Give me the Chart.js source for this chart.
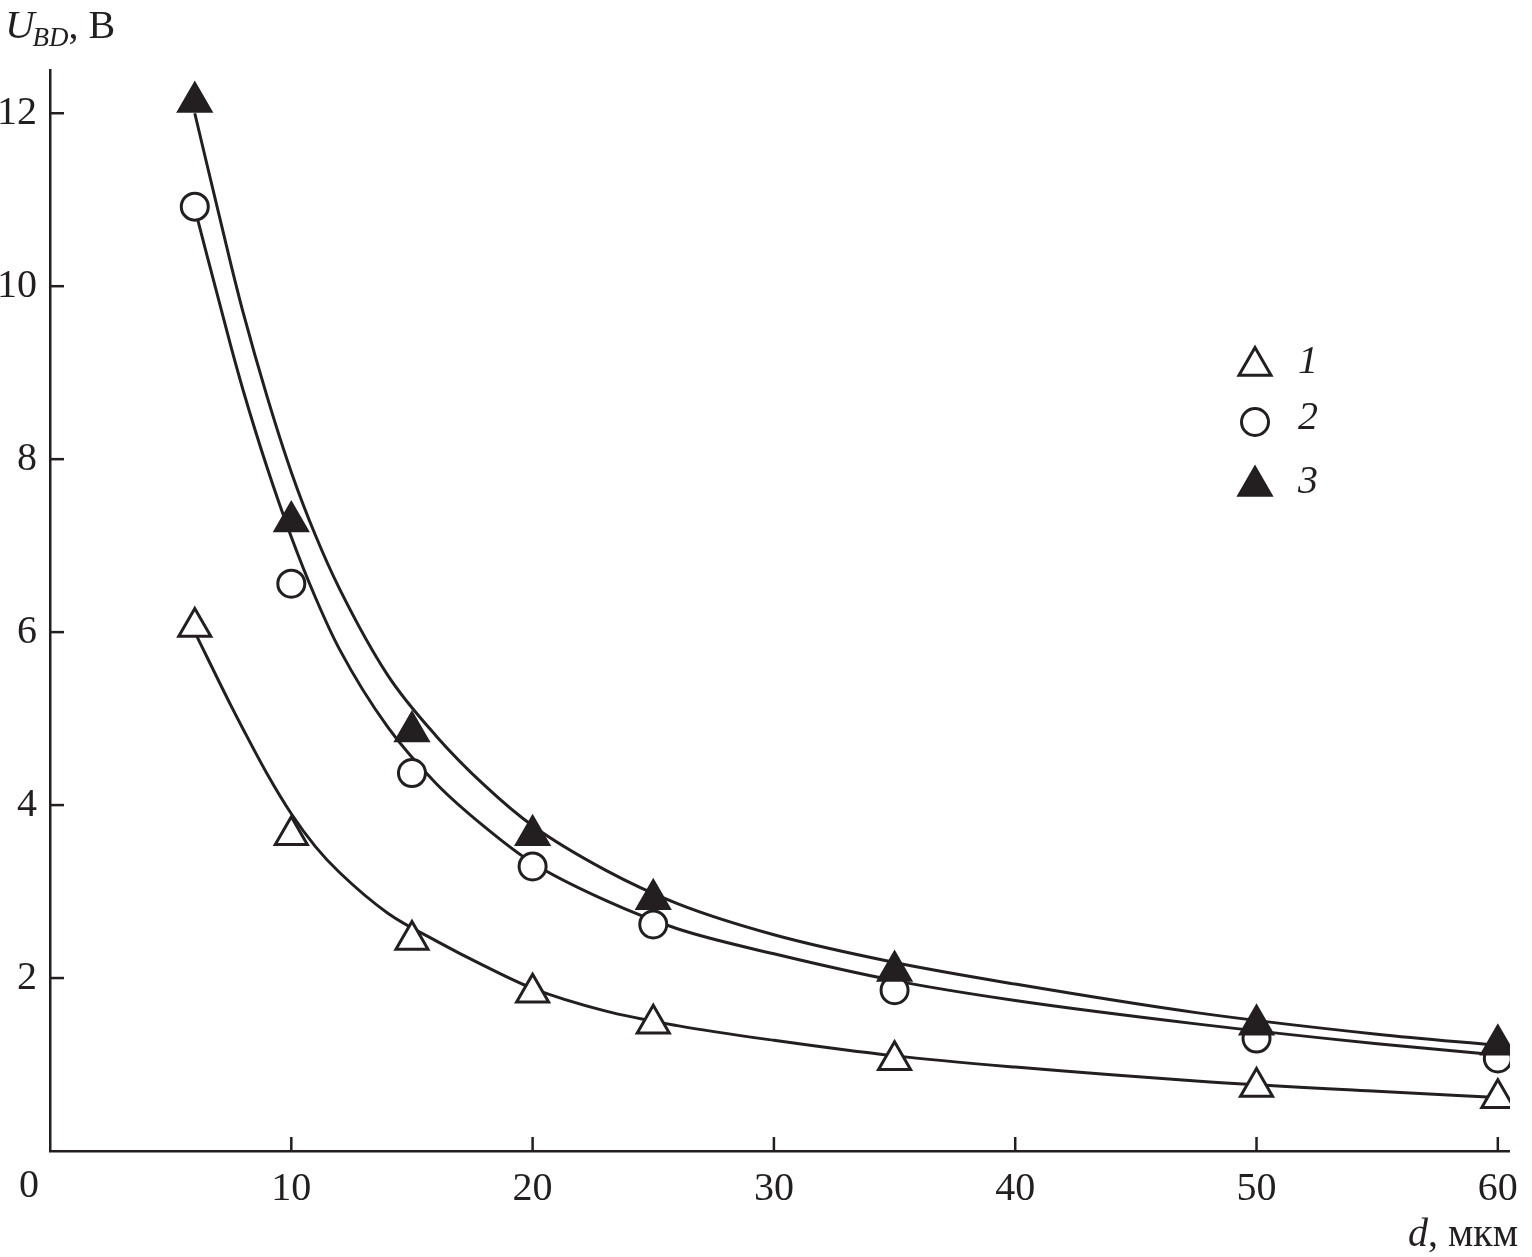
<html>
<head>
<script src="https://cdn.jsdelivr.net/npm/chart.js@4.4.0/dist/chart.umd.min.js"></script>
<style>
  body { margin: 0; background: #fff; }
</style>
</head>
<body>
<canvas id="myChart" width="1532" height="1257"></canvas>
<script>
// measured points: d (um) vs U_BD (V)
const dValues = [6, 10, 15, 20, 25, 35, 50, 60];
const series1 = [6.06, 3.65, 2.44, 1.83, 1.47, 1.05, 0.74, 0.61];
const series2 = [10.92, 6.56, 4.37, 3.29, 2.62, 1.86, 1.30, 1.07];
const series3 = [12.13, 7.28, 4.85, 3.65, 2.91, 2.08, 1.46, 1.23];

// fitted curves
const curveX = [6, 7.5, 8, 9, 10, 11, 12, 14, 16, 18, 20, 23, 26, 30, 35, 40, 47.5, 55, 60];
const curve1 = [6.0, 5.15, 4.88, 4.36, 3.9, 3.52, 3.22, 2.75, 2.43, 2.14, 1.88, 1.62, 1.45, 1.28, 1.1, 0.97, 0.81, 0.69, 0.62];
const curve2 = [10.9, 9.3, 8.8, 7.9, 7.1, 6.4, 5.8, 4.9, 4.25, 3.75, 3.33, 2.9, 2.57, 2.28, 1.97, 1.74, 1.47, 1.24, 1.11];
const curve3 = [12.0, 10.25, 9.7, 8.72, 7.85, 7.12, 6.5, 5.5, 4.8, 4.23, 3.76, 3.25, 2.86, 2.5, 2.18, 1.93, 1.6, 1.35, 1.22];

const xTicks = [0, 10, 20, 30, 40, 50, 60];
const yTicks = [2, 4, 6, 8, 10, 12];
const legendLabels = ["1", "2", "3"];

const INK = "#231f20";
const SERIF = "'Liberation Serif', 'Times New Roman', serif";

const pts = (xs, ys) => xs.map((x, i) => ({ x: x, y: ys[i] }));

function curveSet(ys) {
    return {
        data: pts(curveX, ys),
        showLine: true,
        borderColor: INK,
        borderWidth: 3,
        pointRadius: 0,
        cubicInterpolationMode: "monotone",
        fill: false,
        order: 10
    };
}

const markerStyles = [
    { pointStyle: "triangle", radius: 18.5, fill: "#ffffff" },
    { pointStyle: "circle", radius: 13.5, fill: "#ffffff" },
    { pointStyle: "triangle", radius: 18.5, fill: INK }
];

function markerSet(ys, k, order) {
    const m = markerStyles[k];
    return {
        data: pts(dValues, ys),
        showLine: false,
        pointStyle: m.pointStyle,
        pointRadius: m.radius,
        pointBackgroundColor: m.fill,
        pointBorderColor: INK,
        pointBorderWidth: 3,
        order: order
    };
}

// inward ticks, corner "0", axis titles and legend
const decorations = {
    id: "decorations",
    afterDraw(chart) {
        const c = chart.ctx;
        const xs = chart.scales.x, ys = chart.scales.y;
        const a = chart.chartArea;
        c.save();
        c.strokeStyle = INK;
        c.lineWidth = 2.5;
        xTicks.forEach(v => {
            if (v === 0) return;
            const px = xs.getPixelForValue(v);
            c.beginPath(); c.moveTo(px, a.bottom); c.lineTo(px, a.bottom - 14); c.stroke();
        });
        yTicks.forEach(v => {
            const py = ys.getPixelForValue(v);
            c.beginPath(); c.moveTo(a.left, py); c.lineTo(a.left + 14, py); c.stroke();
        });

        c.fillStyle = INK;
        c.textBaseline = "alphabetic";
        c.textAlign = "center";
        c.font = "40px " + SERIF;
        c.fillText("0", xs.getPixelForValue(0) - 21, a.bottom + 46);

        // y title
        c.textAlign = "left";
        c.font = "italic 41px " + SERIF;
        let x = 5;
        c.fillText("U", x, 38);
        x += c.measureText("U").width - 2;
        c.font = "italic 27px " + SERIF;
        c.fillText("BD", x, 46);
        x += c.measureText("BD").width;
        c.font = "40px " + SERIF;
        c.fillText(", В", x, 38);

        // x title
        c.textAlign = "right";
        c.font = "40px " + SERIF;
        const rest = ", мкм";
        c.fillText(rest, 1518, 1246);
        const w = c.measureText(rest).width;
        c.font = "italic 40px " + SERIF;
        c.fillText("d", 1518 - w, 1246);

        // legend
        const legendY = [366, 422, 486];
        markerStyles.forEach((m, k) => {
            c.fillStyle = m.fill;
            c.strokeStyle = INK;
            c.lineWidth = 3;
            Chart.helpers.drawPoint(c, { pointStyle: m.pointStyle, radius: m.radius, rotation: 0, borderWidth: 3 }, 1255, legendY[k]);
            c.fillStyle = INK;
            c.textAlign = "left";
            c.font = "italic 40px " + SERIF;
            c.fillText(legendLabels[k], 1298, legendY[k] + 7);
        });
        c.restore();
    }
};

const ctx = document.getElementById("myChart").getContext("2d");
const chart = new Chart(ctx, {
    type: "scatter",
    data: {
        datasets: [
            curveSet(curve1),
            curveSet(curve2),
            curveSet(curve3),
            markerSet(series2, 1, 3),
            markerSet(series1, 0, 2),
            markerSet(series3, 2, 1)
        ]
    },
    options: {
        responsive: false,
        animation: false,
        events: [],
        layout: { padding: { top: 70, right: 17, left: 0, bottom: 0 } },
        plugins: {
            legend: { display: false },
            tooltip: { enabled: false }
        },
        scales: {
            x: {
                type: "linear",
                min: 0,
                max: 60.5,
                afterFit: s => { s.height = 106; },
                afterBuildTicks: s => { s.ticks = xTicks.map(v => ({ value: v })); },
                grid: { display: false, drawTicks: false },
                border: { display: true, color: INK, width: 2.5 },
                ticks: {
                    padding: 14,
                    color: INK,
                    font: { family: SERIF, size: 40 },
                    maxRotation: 0,
                    callback: v => (v === 0 ? "" : String(v))
                }
            },
            y: {
                type: "linear",
                min: 0,
                max: 12.5,
                afterFit: s => { s.width = 50; },
                afterBuildTicks: s => { s.ticks = yTicks.map(v => ({ value: v })); },
                grid: { display: false, drawTicks: false },
                border: { display: true, color: INK, width: 2.5 },
                ticks: {
                    padding: 13,
                    color: INK,
                    font: { family: SERIF, size: 40 },
                    callback: v => String(v)
                }
            }
        }
    },
    plugins: [decorations]
});
</script>
</body>
</html>
